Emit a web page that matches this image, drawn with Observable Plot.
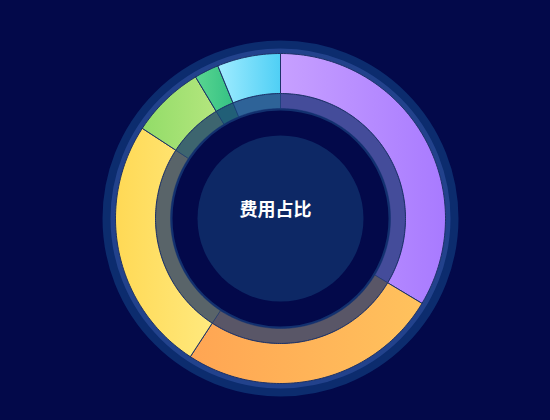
<!DOCTYPE html>
<html>
<head>
<meta charset="utf-8">
<script src="https://cdn.jsdelivr.net/npm/d3@7"></script>
<script src="https://cdn.jsdelivr.net/npm/@observablehq/plot@0.6"></script>
<style>
  html, body { margin: 0; padding: 0; background: #03094a; }
  #chart { width: 550px; height: 420px; }
</style>
</head>
<body>
<div id="chart"></div>
<script>
// ---- data ----
const categories = ["人工费", "材料费", "机械费", "管理费", "税费", "其他"];
const values = [33.6, 25.6, 25.0, 7.2, 2.4, 6.2];
const colorsLeft  = ["#c7a0ff", "#ffa553", "#ffd955", "#92dc68", "#5ad690", "#a0ecff"];
const colorsRight = ["#a87aff", "#ffc25d", "#ffe97e", "#b4e67e", "#35c184", "#4fcff5"];
const baseColors  = ["#b890ff", "#ffb157", "#ffdd5c", "#a2e070", "#45cc8a", "#6fdcfa"];
const title = "费用占比";

// ---- geometry (radii in pixels; scales map 1 unit = 1 px) ----
const R_OUT = 165, R_IN = 125, R_BAND = 110;

const pie = d3.pie().sort(null).value(d => d.value)(
  categories.map((c, i) => ({category: c, value: values[i], i}))
);

function arcPoints(slices, r0, r1, fillOf) {
  const pts = [];
  for (const s of slices) {
    const a0 = s.startAngle, a1 = s.endAngle;
    const n = Math.max(2, Math.ceil((a1 - a0) / (Math.PI / 180)));
    const key = s.data.category;
    const fill = fillOf(s.data.i);
    const push = (a, r) => pts.push({key, fill, x: r * Math.sin(a), y: r * Math.cos(a)});
    for (let k = 0; k <= n; k++) push(a0 + (a1 - a0) * k / n, r1);
    for (let k = n; k >= 0; k--) push(a0 + (a1 - a0) * k / n, r0);
    push(a0, r1);
  }
  return pts;
}

const mainPts = arcPoints(pie, R_IN, R_OUT, i => `url(#grad${i})`);
const bandPts = arcPoints(pie, R_BAND, R_IN, i => baseColors[i]);
const center = [{x: 0, y: 0}];

const plot = Plot.plot({
  width: 550,
  height: 420,
  margin: 0,
  x: {domain: [-280, 270], axis: null},
  y: {domain: [-202, 218], axis: null},
  color: {type: "identity"},
  style: {background: "#03094a", overflow: "visible"},
  marks: [
    // outer glow ring
    Plot.dot(center, {x: "x", y: "y", r: 171.5, fill: "none", stroke: "#0c2c6e", strokeWidth: 13}),
    Plot.dot(center, {x: "x", y: "y", r: 167.5, fill: "none", stroke: "#22428c", strokeWidth: 5}),
    // underlay for inner band
    Plot.dot(center, {x: "x", y: "y", r: 116.5, fill: "none", stroke: "#12306f", strokeWidth: 17}),
    // inner translucent band
    Plot.line(bandPts, {x: "x", y: "y", z: "key", fill: "fill", fillOpacity: 0.3, stroke: "#12306f", strokeOpacity: 0.6, strokeWidth: 0.8, curve: "linear"}),
    // main slices
    Plot.line(mainPts, {x: "x", y: "y", z: "key", fill: "fill", stroke: "#1c3268", strokeWidth: 1, strokeLinejoin: "miter", curve: "linear"}),
    // center disc
    Plot.dot(center, {x: "x", y: "y", r: 83, fill: "#0d2865", stroke: "none"}),
    // title
    Plot.text(center, {x: "x", y: "y", text: () => title, dx: -5, dy: -8, fill: "white", fontSize: 18, fontWeight: "bold", fontFamily: "'Noto Sans CJK SC', sans-serif"})
  ]
});

// gradient definitions
const svg = d3.select(plot);
const defs = svg.insert("defs", ":first-child");
colorsLeft.forEach((c, i) => {
  const g = defs.append("linearGradient").attr("id", `grad${i}`)
    .attr("x1", "0").attr("y1", "0").attr("x2", "1").attr("y2", "0");
  g.append("stop").attr("offset", "0%").attr("stop-color", c);
  g.append("stop").attr("offset", "100%").attr("stop-color", colorsRight[i]);
});

document.getElementById("chart").appendChild(plot);
</script>
</body>
</html>
